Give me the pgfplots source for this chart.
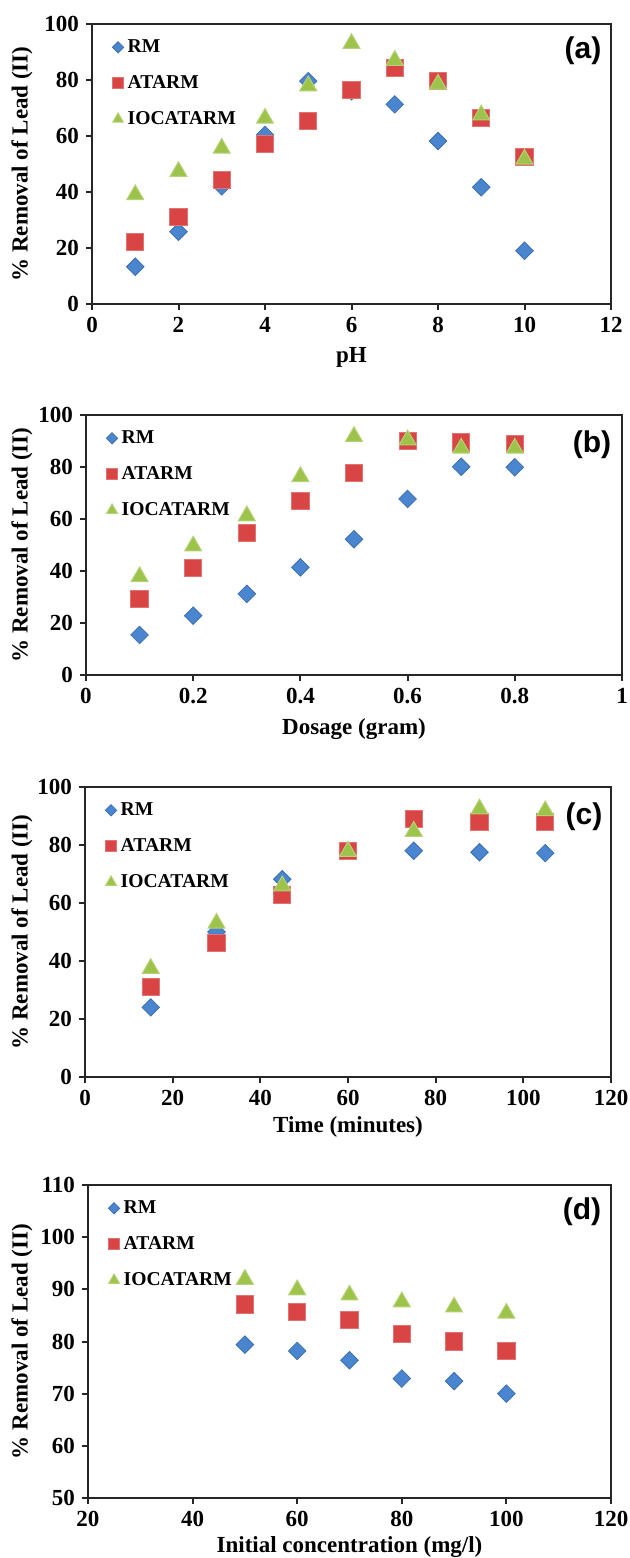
\documentclass[border=0pt]{standalone}
\usepackage{fontspec}
\setmainfont{Liberation Serif}
\newfontfamily\arialfont{Liberation Sans}
\usepackage{pgfplots}
\pgfplotsset{compat=1.18}

\definecolor{rmblue}{HTML}{4A85D0}
\definecolor{atred}{HTML}{D94444}
\definecolor{iogreen}{HTML}{9DC34A}

\tikzset{plabel/.style={font={\arialfont\fontsize{15}{15}\selectfont\bfseries}}}

\pgfplotsset{
  panel/.style={
    scale only axis,
    anchor=south west,
    axis line style={line width=1pt, black!85},
    tick style={line width=1pt, black!85},
    tick align=outside, major tick length=3pt,
    xtick pos=bottom, ytick pos=left,
    /pgf/number format/assume math mode=true,
    ticklabel style={font=\fontsize{11.5}{12}\selectfont\bfseries},
    label style={font=\fontsize{11.5}{12}\selectfont\bfseries},
    ylabel={\% Removal of Lead (II)},
    legend style={draw=none, fill=none, at={(0,1)}, anchor=north west,
      xshift=7pt, yshift=-3.5pt,
      font=\fontsize{9.8}{10}\selectfont\bfseries, row sep=6pt},
    legend cell align=left,
    legend image code/.code={\draw[#1] plot coordinates {(0pt,0pt)};},
    clip=false,
  },
  rmser/.style={only marks, mark=square*, mark size=3.1pt,
    mark options={rotate=45, fill=rmblue, draw=rmblue!85!black, line width=0.4pt},
    legend image post style={mark size=2pt}},
  atser/.style={only marks, mark=square*, mark size=4.3pt,
    mark options={fill=atred, draw=atred!75!white, line width=0.5pt},
    legend image post style={mark size=2.7pt}},
  ioser/.style={only marks, mark=triangle*, mark size=4.9pt,
    mark options={fill=iogreen, draw=iogreen!75!white, line width=0.5pt},
    legend image post style={mark size=3.1pt}},
}

\pgfplotstableread{
x rm at io
1 13.3 22.0 39.0
2 25.8 31.2 47.3
3 42.0 44.3 55.6
4 60.4 57.1 66.3
5 79.6 65.4 77.9
6 76.0 76.4 93.0
7 71.3 84.4 87.0
8 58.2 79.6 78.5
9 41.7 66.3 67.5
10 19.0 52.6 51.7
}\tpH

\pgfplotstableread{
x rm at io
0.1 15.4 29.1 37.8
0.2 22.8 41.3 49.6
0.3 31.2 54.5 61.2
0.4 41.4 66.9 76.3
0.5 52.2 77.6 91.7
0.6 67.7 90.0 90.4
0.7 80.1 89.4 87.2
0.8 79.9 88.7 87.2
}\tdose

\pgfplotstableread{
x rm at io
15 24.0 31.1 37.4
30 50.0 46.3 53.0
45 68.2 62.8 65.9
60 78.0 77.8 77.8
75 78.0 88.9 84.7
90 77.5 87.8 92.4
105 77.2 87.8 91.8
}\ttime

\pgfplotstableread{
x rm at io
50 79.4 87.1 91.9
60 78.2 85.7 89.9
70 76.4 84.1 88.9
80 72.9 81.4 87.6
90 72.4 80.0 86.6
100 70.0 78.2 85.4
}\tconc

\begin{document}
\begin{tikzpicture}
\useasboundingbox (0,0) rectangle (314.5pt,779pt);

% (a) pH
\begin{axis}[panel, at={(46pt,627pt)}, width=259.5pt, height=140pt,
  xmin=0, xmax=12, xtick={0,2,...,12},
  ymin=0, ymax=100, ytick={0,20,...,100},
  xlabel={pH},
  xlabel style={at={(axis description cs:0.5,0)}, anchor=center, yshift=-26.5pt},
  ylabel style={at={([xshift=-35pt]axis description cs:0,0.5)}, anchor=center}]
\addplot[rmser] table[x=x,y=rm] {\tpH}; \addlegendentry{RM}
\addplot[atser] table[x=x,y=at] {\tpH}; \addlegendentry{ATARM}
\addplot[ioser] table[x=x,y=io] {\tpH}; \addlegendentry{IOCATARM}
\node[plabel] at ([xshift=-14pt,yshift=-13.5pt]rel axis cs:1,1) {(a)};
\end{axis}

% (b) dosage
\begin{axis}[panel, at={(43pt,441.5pt)}, width=268pt, height=130pt,
  xmin=0, xmax=1, xtick={0,0.2,0.4,0.6,0.8,1},
  ymin=0, ymax=100, ytick={0,20,...,100},
  xlabel={Dosage (gram)},
  xlabel style={at={(axis description cs:0.5,0)}, anchor=center, yshift=-27pt},
  ylabel style={at={([xshift=-32pt]axis description cs:0,0.5)}, anchor=center}]
\addplot[rmser] table[x=x,y=rm] {\tdose}; \addlegendentry{RM}
\addplot[atser] table[x=x,y=at] {\tdose}; \addlegendentry{ATARM}
\addplot[ioser] table[x=x,y=io] {\tdose}; \addlegendentry{IOCATARM}
\node[plabel] at ([xshift=-15pt,yshift=-15pt]rel axis cs:1,1) {(b)};
\end{axis}

% (c) time
\begin{axis}[panel, at={(42.5pt,240.5pt)}, width=263pt, height=145pt,
  xmin=0, xmax=120, xtick={0,20,...,120},
  ymin=0, ymax=100, ytick={0,20,...,100},
  xlabel={Time (minutes)},
  xlabel style={at={(axis description cs:0.5,0)}, anchor=center, yshift=-25pt},
  ylabel style={at={([xshift=-31.5pt]axis description cs:0,0.5)}, anchor=center}]
\addplot[rmser] table[x=x,y=rm] {\ttime}; \addlegendentry{RM}
\addplot[atser] table[x=x,y=at] {\ttime}; \addlegendentry{ATARM}
\addplot[ioser] table[x=x,y=io] {\ttime}; \addlegendentry{IOCATARM}
\node[plabel] at ([xshift=-13.5pt,yshift=-15pt]rel axis cs:1,1) {(c)};
\end{axis}

% (d) initial concentration
\begin{axis}[panel, at={(44pt,30pt)}, width=261.5pt, height=156.5pt,
  xmin=20, xmax=120, xtick={20,40,...,120},
  ymin=50, ymax=110, ytick={50,60,...,110},
  xlabel={Initial concentration (mg/l)},
  xlabel style={at={(axis description cs:0.5,0)}, anchor=center, yshift=-24.5pt},
  ylabel style={at={([xshift=-33pt]axis description cs:0,0.5)}, anchor=center}]
\addplot[rmser] table[x=x,y=rm] {\tconc}; \addlegendentry{RM}
\addplot[atser] table[x=x,y=at] {\tconc}; \addlegendentry{ATARM}
\addplot[ioser] table[x=x,y=io] {\tconc}; \addlegendentry{IOCATARM}
\node[plabel] at ([xshift=-14.5pt,yshift=-13.5pt]rel axis cs:1,1) {(d)};
\end{axis}
\end{tikzpicture}
\end{document}
